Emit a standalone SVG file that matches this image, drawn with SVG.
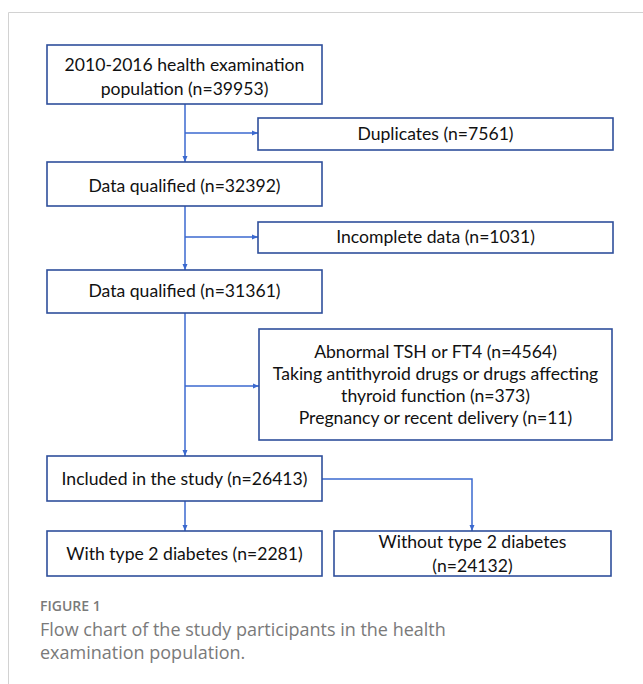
<svg xmlns="http://www.w3.org/2000/svg" width="643" height="684" viewBox="0 0 643 684">
<style>
.box{fill:#fff;stroke:#2f4f9c;stroke-width:1.6}
.t{font-family:Lato,"Liberation Sans",sans-serif;font-size:17.6px;fill:#111;text-anchor:middle}
.c{fill:none;stroke:#3b69cf;stroke-width:1.5}
.cap{font-family:"Open Sans","Liberation Sans",sans-serif;fill:#7a7a7a}
</style>
<defs>
<marker id="ah" viewBox="0 0 6 6" refX="6" refY="3" markerWidth="6" markerHeight="6" orient="auto" markerUnits="userSpaceOnUse">
<path d="M0,0.5 L6,3 L0,5.5 z" fill="#3b69cf"/>
</marker>
</defs>
<rect x="0" y="0" width="643" height="684" fill="#fff"/>
<path d="M8.5,684 V12.5 H643" fill="none" stroke="#d2d2d2" stroke-width="1"/>
<g id="connectors">
<path class="c" d="M185,104 V162" marker-end="url(#ah)"/>
<path class="c" d="M185,133 H258" marker-end="url(#ah)"/>
<path class="c" d="M185,206 V270" marker-end="url(#ah)"/>
<path class="c" d="M185,237 H258" marker-end="url(#ah)"/>
<path class="c" d="M185,313 V456" marker-end="url(#ah)"/>
<path class="c" d="M185,386 H259" marker-end="url(#ah)"/>
<path class="c" d="M185,501 V531" marker-end="url(#ah)"/>
<path class="c" d="M322,479 H472 V531" marker-end="url(#ah)"/>
</g>
<g id="n1"><rect class="box" x="47" y="45" width="275" height="59"/>
<text class="t" x="184.5" y="71">2010-2016 health examination</text>
<text class="t" x="184.5" y="95">population (n=39953)</text></g>
<g id="n2"><rect class="box" x="258" y="118" width="355" height="32"/>
<text class="t" x="435.5" y="140">Duplicates (n=7561)</text></g>
<g id="n3"><rect class="box" x="47" y="162" width="275" height="44"/>
<text class="t" x="184.5" y="192">Data qualified (n=32392)</text></g>
<g id="n4"><rect class="box" x="258" y="222" width="355" height="31"/>
<text class="t" x="435.5" y="243">Incomplete data (n=1031)</text></g>
<g id="n5"><rect class="box" x="47" y="270" width="275" height="43"/>
<text class="t" x="184.5" y="297">Data qualified (n=31361)</text></g>
<g id="n6"><rect class="box" x="259" y="329" width="353" height="111"/>
<text class="t" x="435.5" y="358">Abnormal TSH or FT4 (n=4564)</text>
<text class="t" x="435.5" y="380">Taking antithyroid drugs or drugs affecting</text>
<text class="t" x="435.5" y="402">thyroid function (n=373)</text>
<text class="t" x="435.5" y="424">Pregnancy or recent delivery (n=11)</text></g>
<g id="n7"><rect class="box" x="47" y="456" width="275" height="45"/>
<text class="t" x="184.5" y="485">Included in the study (n=26413)</text></g>
<g id="n8"><rect class="box" x="47" y="531" width="275" height="45"/>
<text class="t" x="184.5" y="560">With type 2 diabetes (n=2281)</text></g>
<g id="n9"><rect class="box" x="334" y="531" width="277" height="45"/>
<text class="t" x="472.5" y="548">Without type 2 diabetes</text>
<text class="t" x="472.5" y="572">(n=24132)</text></g>
<g id="caption">
<text class="cap" x="40" y="611" font-size="14" font-weight="600" fill="#6f6f6f">FIGURE 1</text>
<text class="cap" x="40" y="636" font-size="18">Flow chart of the study participants in the health</text>
<text class="cap" x="40" y="659" font-size="18">examination population.</text>
</g>
</svg>
